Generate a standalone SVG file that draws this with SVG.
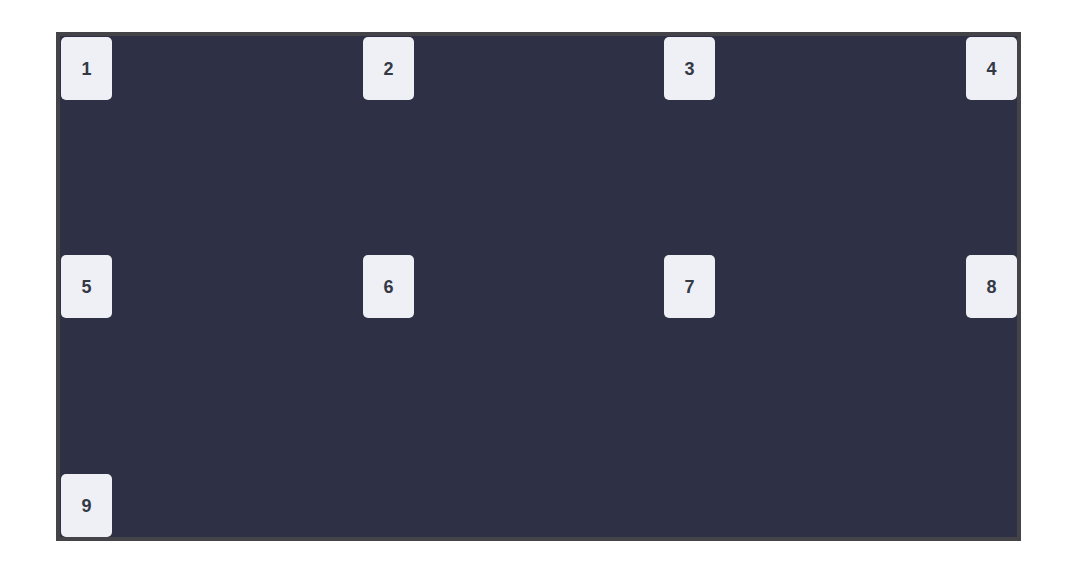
<svg xmlns="http://www.w3.org/2000/svg" width="1088" height="576" viewBox="0 0 1088 576">
<style>
.n rect{fill:#eff0f6}
.n text{font-family:"Liberation Sans",Arial,sans-serif;font-weight:bold;font-size:18px;fill:#333a45;text-anchor:middle}
</style>
<rect width="1088" height="576" fill="#ffffff"/>
<rect x="58" y="34" width="961" height="505" fill="#2e3045" stroke="#444448" stroke-width="4"/>
<g id="connectors"></g>
<g id="node1" class="n"><rect x="61" y="37" width="51" height="63" rx="5"/><text x="86.5" y="74.5">1</text></g>
<g id="node2" class="n"><rect x="363" y="37" width="51" height="63" rx="5"/><text x="388.5" y="74.5">2</text></g>
<g id="node3" class="n"><rect x="664" y="37" width="51" height="63" rx="5"/><text x="689.5" y="74.5">3</text></g>
<g id="node4" class="n"><rect x="966" y="37" width="51" height="63" rx="5"/><text x="991.5" y="74.5">4</text></g>
<g id="node5" class="n"><rect x="61" y="255" width="51" height="63" rx="5"/><text x="86.5" y="292.5">5</text></g>
<g id="node6" class="n"><rect x="363" y="255" width="51" height="63" rx="5"/><text x="388.5" y="292.5">6</text></g>
<g id="node7" class="n"><rect x="664" y="255" width="51" height="63" rx="5"/><text x="689.5" y="292.5">7</text></g>
<g id="node8" class="n"><rect x="966" y="255" width="51" height="63" rx="5"/><text x="991.5" y="292.5">8</text></g>
<g id="node9" class="n"><rect x="61" y="474" width="51" height="63" rx="5"/><text x="86.5" y="511.5">9</text></g>
</svg>
